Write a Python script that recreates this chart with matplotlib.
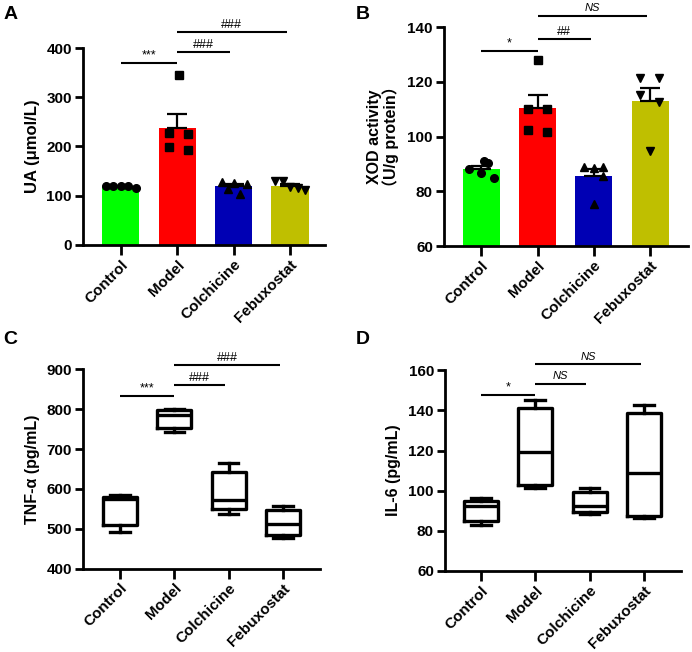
import numpy as np
import matplotlib
matplotlib.use('Agg')
import matplotlib.pyplot as plt

plt.rcParams['font.family'] = ['Liberation Sans', 'DejaVu Sans']

groups = ['Control', 'Model', 'Colchicine', 'Febuxostat']
bar_colors = ['#00FF00', '#FF0000', '#0000B4', '#BFBF00']
markers = ['o', 's', '^', 'v']

# Panel A: UA (umol/L), individual points
ua_control = [120, 120, 120, 120, 116]
ua_model = [346, 228, 225, 198, 193]
ua_colchicine = [128, 126, 123, 114, 103]
ua_febuxostat = [129, 129, 117, 115, 112]

# Panel B: XOD activity (U/g protein), individual points
xod_control = [88.0, 91.0, 90.2, 86.5, 85.0]
xod_model = [127.9, 110.2, 110.2, 102.3, 101.7]
xod_colchicine = [89.0, 88.5, 88.8, 85.5, 75.3]
xod_febuxostat = [121.2, 121.2, 115.1, 112.7, 94.8]

# Panel C: TNF-alpha box stats  [min, q1, median, q3, max]
tnf_control = [493, 510, 574, 580, 585]
tnf_model = [743, 753, 786, 797, 801]
tnf_colchicine = [537, 549, 572, 643, 666]
tnf_febuxostat = [477, 485, 512, 547, 557]

# Panel D: IL-6 box stats  [min, q1, median, q3, max]
il6_control = [83.0, 85.0, 92.4, 94.8, 96.2]
il6_model = [101.6, 102.8, 119.2, 141.3, 145.0]
il6_colchicine = [88.2, 89.5, 92.6, 99.5, 101.6]
il6_febuxostat = [86.2, 87.6, 109.0, 138.6, 142.7]

# horizontal jitter of scatter points (style)
jit_a = [[-0.27, -0.13, 0.0, 0.13, 0.27], [0.03, -0.15, 0.19, -0.15, 0.19],
         [-0.21, 0.0, 0.24, -0.10, 0.12], [-0.27, -0.12, 0.0, 0.14, 0.27]]
jit_b = [[-0.21, 0.05, 0.12, 0.0, 0.22], [0.0, -0.17, 0.17, -0.17, 0.17],
         [-0.17, 0.0, 0.17, 0.17, 0.0], [-0.19, 0.15, -0.19, 0.15, 0.0]]

# significance annotations: (from, to, y, text)
sig_a = [(0, 1, 370, '***'), (1, 2, 391, '###'), (1, 3, 432, '###')]
sig_b = [(0, 1, 131.3, '*'), (1, 2, 135.5, '##'), (1, 3, 144, 'NS')]
sig_c = [(0, 1, 833, '***'), (1, 2, 860, '###'), (1, 3, 910, '###')]
sig_d = [(0, 1, 147.7, '*'), (1, 2, 153.3, 'NS'), (1, 3, 163, 'NS')]

W, H = 692, 652
fig = plt.figure(figsize=(W / 100, H / 100), dpi=100)


def add_ax(l, r, t, b):
    return fig.add_axes([l / W, 1 - b / H, (r - l) / W, (b - t) / H])


axA = add_ax(83, 325, 48, 245)
axB = add_ax(444, 688, 27, 246)
axC = add_ax(83, 320, 369.3, 568.7)
axD = add_ax(445, 681, 370.3, 571)


def style(ax, ylim, yticks, xlim):
    ax.set_xlim(*xlim)
    ax.set_ylim(*ylim)
    ax.set_yticks(yticks)
    ax.set_xticks(range(4))
    ax.set_xticklabels(groups, rotation=45, ha='right', va='top',
                       rotation_mode='anchor', fontsize=11, fontweight='bold')
    for lab in ax.get_yticklabels():
        lab.set_fontweight('bold')
        lab.set_fontsize(11)
    for s in ['top', 'right']:
        ax.spines[s].set_visible(False)
    for s in ['left', 'bottom']:
        ax.spines[s].set_linewidth(2)
    ax.tick_params(axis='both', direction='out', width=2, length=6, pad=2)
    ax.tick_params(axis='x', length=7, pad=2)


def sig(ax, items):
    for i, j, y, t in items:
        x0 = i
        x1 = j - (0.06 if j > 1 else 0)
        ax.plot([x0, x1], [y, y], color='black', lw=1.5, clip_on=False,
                solid_capstyle='butt')
        rng = ax.get_ylim()[1] - ax.get_ylim()[0]
        if t == 'NS':
            ax.text((x0 + x1) / 2, y + rng * 0.012, t, ha='center',
                    va='bottom', fontsize=8, fontstyle='italic', clip_on=False)
        else:
            ax.text((x0 + x1) / 2, y + rng * 0.006, t, ha='center',
                    va='bottom', fontsize=9, clip_on=False)


def bar_panel(ax, data, jit):
    for k, vals in enumerate(data):
        v = np.array(vals, dtype=float)
        m = v.mean()
        sem = v.std(ddof=1) / np.sqrt(len(v))
        ax.bar(k, m, width=0.66, color=bar_colors[k], zorder=1)
        ax.errorbar(k, m, yerr=[[0], [sem]], color='black', lw=1.6,
                    capsize=7, capthick=1.6, zorder=2)
        ax.plot(k + np.array(jit[k]), v, linestyle='none', marker=markers[k],
                color='black', markersize=5.5, zorder=3, clip_on=False)


def box_panel(ax, data):
    stats = []
    for s in data:
        stats.append({'whislo': s[0], 'q1': s[1], 'med': s[2], 'q3': s[3],
                      'whishi': s[4], 'fliers': []})
    lw = 2.4
    ax.bxp(stats, positions=range(4), widths=0.62, showfliers=False,
           capwidths=0.36,
           boxprops=dict(color='black', linewidth=lw),
           whiskerprops=dict(color='black', linewidth=lw),
           capprops=dict(color='black', linewidth=lw),
           medianprops=dict(color='black', linewidth=lw),
           manage_ticks=False)


bar_panel(axA, [ua_control, ua_model, ua_colchicine, ua_febuxostat], jit_a)
style(axA, (0, 400), [0, 100, 200, 300, 400], (-0.67, 3.62))
sig(axA, sig_a)
axA.set_ylabel('UA (\u03bcmol/L)', fontsize=12, fontweight='bold')
axA.yaxis.set_label_coords(-0.178, 0.5)

bar_panel(axB, [xod_control, xod_model, xod_colchicine, xod_febuxostat], jit_b)
style(axB, (60, 140), [60, 80, 100, 120, 140], (-0.66, 3.67))
sig(axB, sig_b)
axB.set_ylabel('XOD activity\n\uff08U/g protein\uff09', fontsize=11.5,
               fontweight='bold', family=['Liberation Sans', 'Noto Sans CJK SC'],
               linespacing=1.0)
axB.yaxis.set_label_coords(-0.184, 0.5)

box_panel(axC, [tnf_control, tnf_model, tnf_colchicine, tnf_febuxostat])
style(axC, (400, 900), [400, 500, 600, 700, 800, 900], (-0.68, 3.68))
sig(axC, sig_c)
axC.set_ylabel('TNF-\u03b1 (pg/mL)', fontsize=11.5, fontweight='bold')
axC.yaxis.set_label_coords(-0.181, 0.5)

box_panel(axD, [il6_control, il6_model, il6_colchicine, il6_febuxostat])
style(axD, (60, 160), [60, 80, 100, 120, 140, 160], (-0.66, 3.68))
sig(axD, sig_d)
axD.set_ylabel('IL-6 (pg/mL)', fontsize=11.5, fontweight='bold')
axD.yaxis.set_label_coords(-0.186, 0.5)

for lab, (x, y) in zip('ABCD', [(4, 6), (356, 6), (3, 331), (356, 331)]):
    fig.text(x / W, 1 - y / H, lab, fontsize=14, fontweight='bold',
             ha='left', va='top')

fig.savefig('out.png', dpi=100)
